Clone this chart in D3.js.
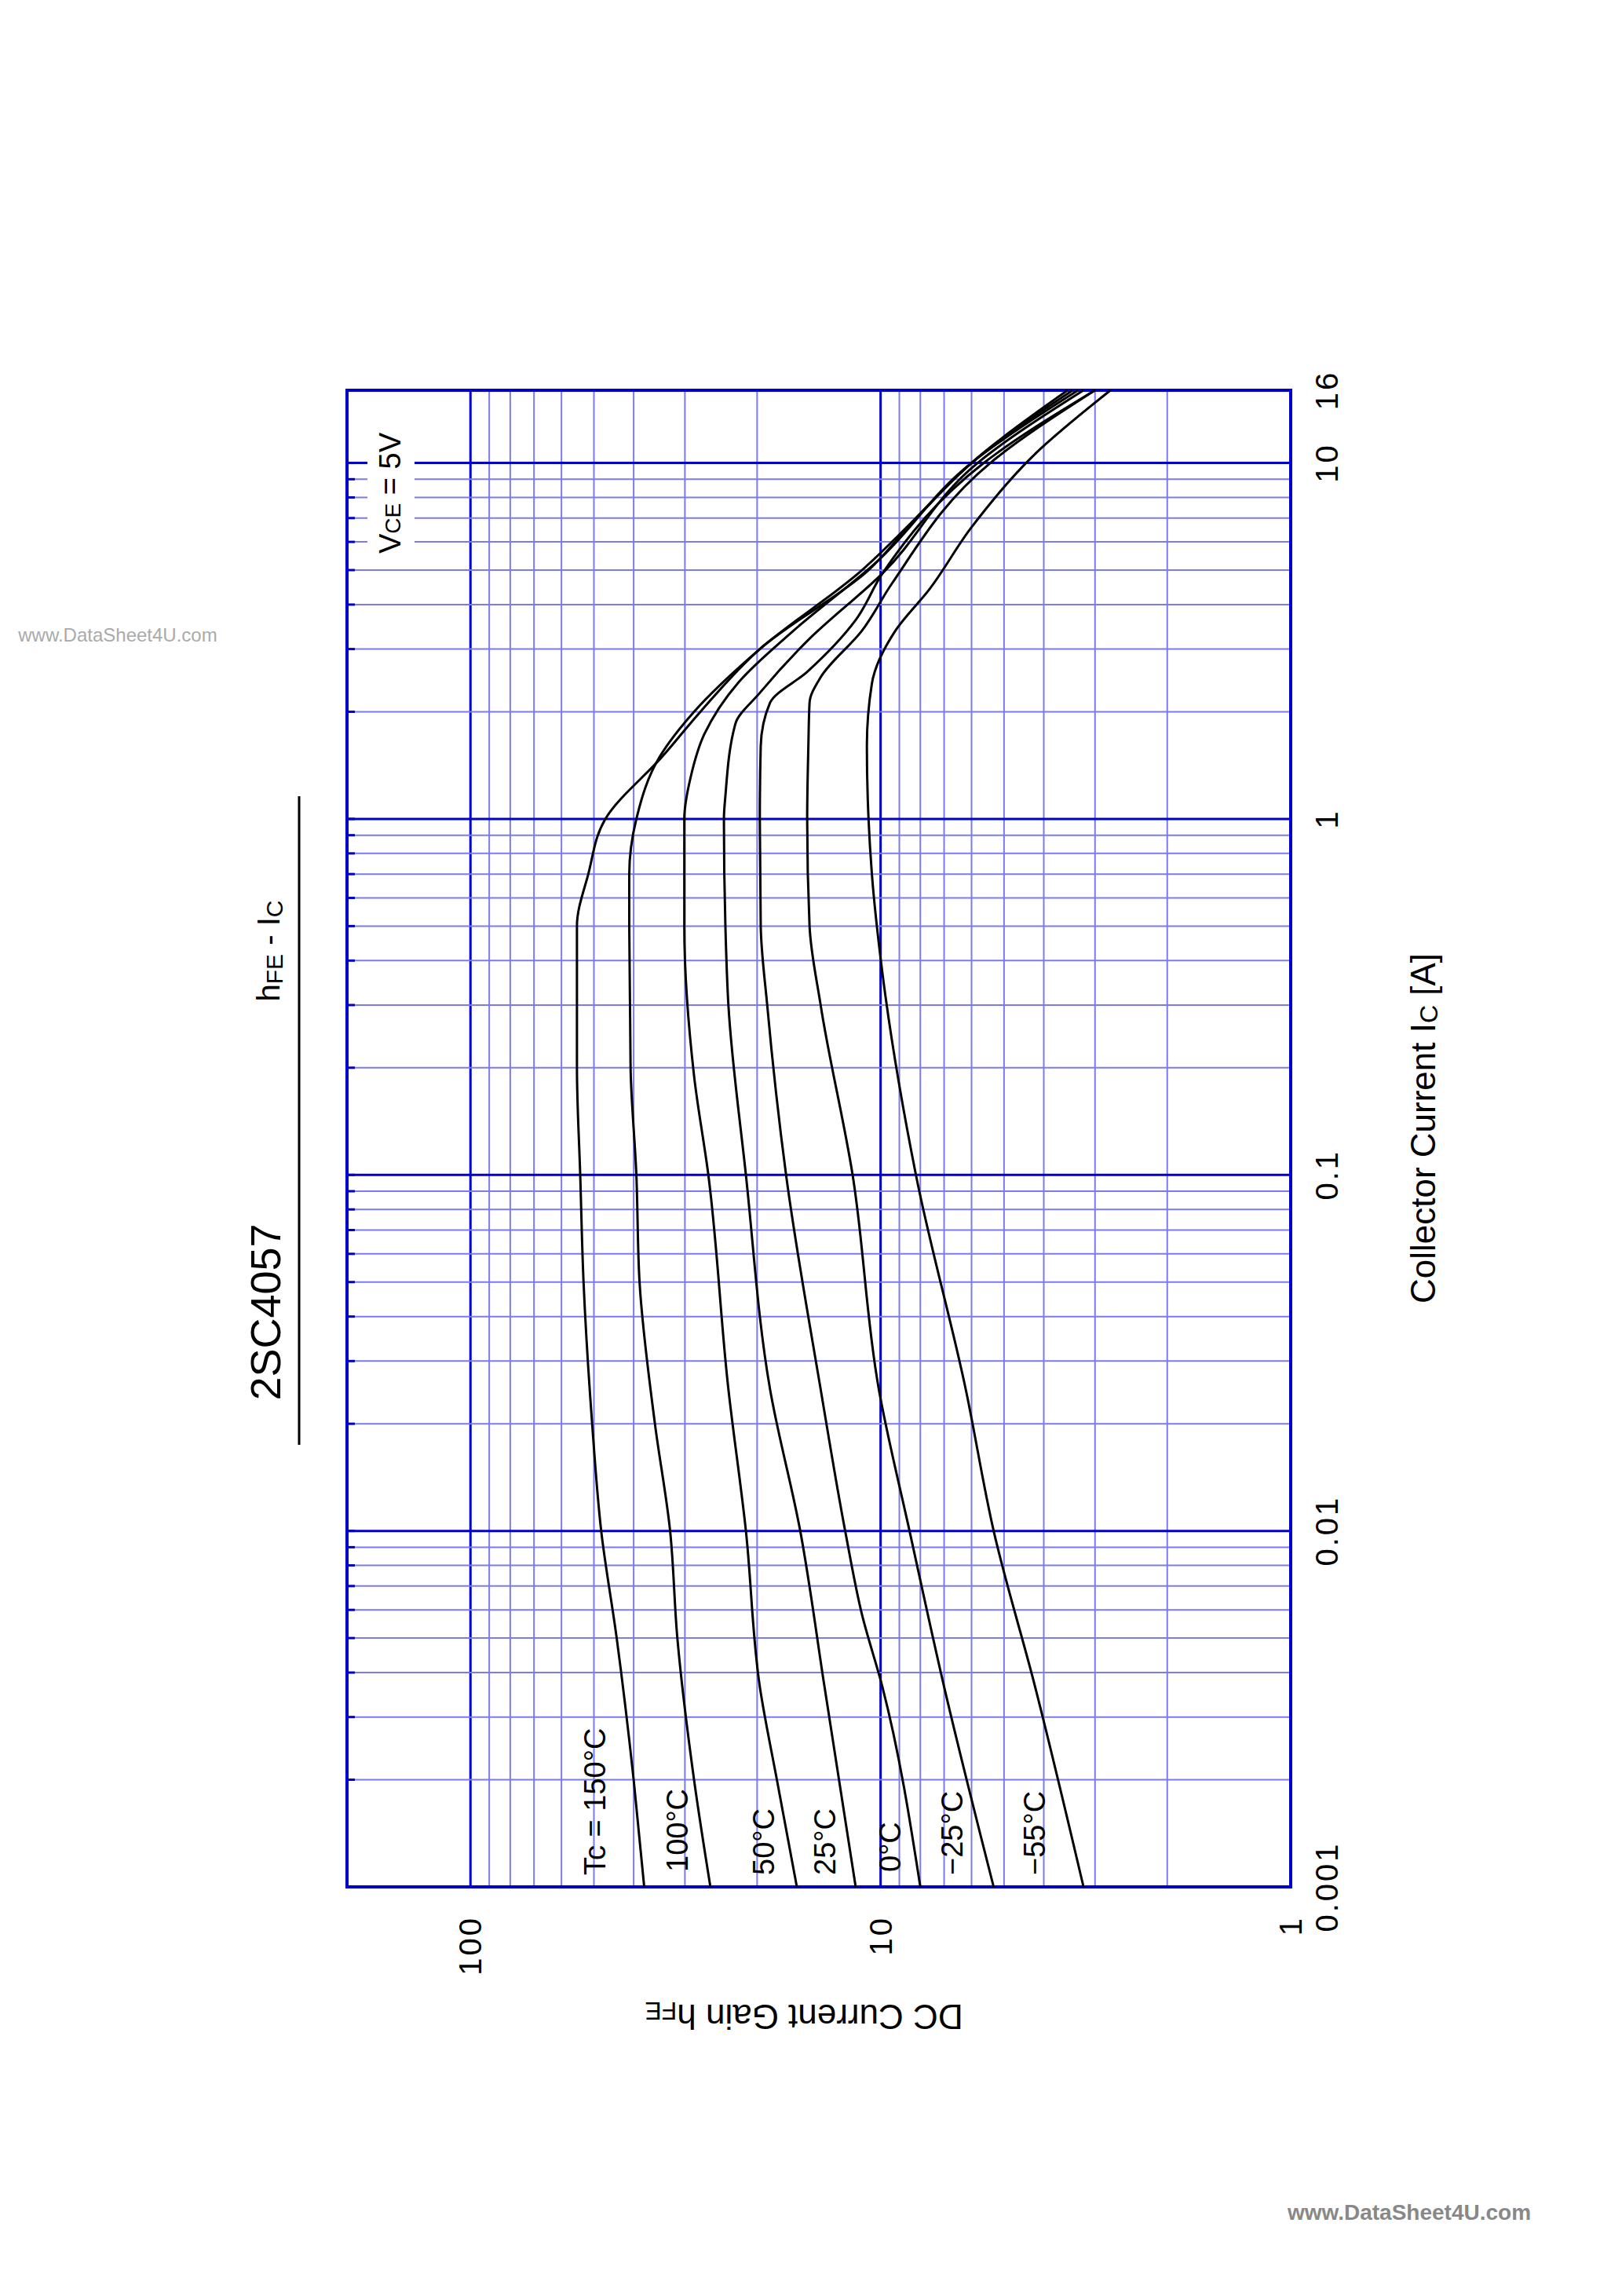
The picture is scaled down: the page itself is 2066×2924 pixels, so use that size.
<!DOCTYPE html>
<html><head><meta charset="utf-8">
<script src="https://cdn.jsdelivr.net/npm/d3@7"></script>
<style>body{margin:0;background:#fff}svg{display:block}text{font-family:"Liberation Sans",Arial,sans-serif}</style>
</head><body>
<script>
const icTicks = [0.001, 0.01, 0.1, 1, 10, 16];
const icTickLabels = ["0.001", "0.01", "0.1", "1", "10", "16"];
const hfeTicks = [1, 10, 100];
const hfeTickLabels = ["1", "10", "100"];
const seriesNames = ["Tc = 150°C", "100°C", "50°C", "25°C", "0°C", "−25°C", "−55°C"];
const t150 = [[0.001,37.7],[0.002,40],[0.005,44],[0.01,48],[0.02,50.5],[0.05,53],[0.1,54],[0.2,55],[0.5,55],[0.7,51.6],[1,46.9],[1.5,34],[2,27.5],[3,19.7],[5,10.7],[7,8.2],[10,6.0],[16,3.5]];
const t100 = [[0.001,26.0],[0.002,28.5],[0.005,31.3],[0.01,32.6],[0.02,35.5],[0.05,38.7],[0.1,39.4],[0.2,40.7],[0.5,41],[0.7,41],[1,39.4],[1.5,34.5],[2,28.5],[3,19.7],[5,11.1],[7,8.2],[10,6.0],[16,3.4]];
const t50 = [[0.001,16.0],[0.002,17.9],[0.00365,19.7],[0.01,21.3],[0.025,23.5],[0.1,26.3],[0.19,28.5],[0.5,30.1],[1,30.1],[1.32,29],[1.73,26.9],[2.42,22.2],[3.38,16.3],[5.23,10.3],[10,6.0],[16,3.3]];
const t25 = [[0.001,11.5],[0.00365,13.7],[0.01,15.7],[0.025,18.6],[0.1,21.3],[0.3,23.5],[0.5,23.9],[1,24.1],[1.16,23.9],[1.85,22.6],[2.26,19.7],[3.16,15.1],[4.89,9.9],[10,5.8],[16,3.2]];
const t0 = [[0.001,8.0],[0.00365,9.9],[0.00582,11.1],[0.01,12.2],[0.025,14.0],[0.1,17.0],[0.3,18.9],[0.5,19.6],[1,19.7],[1.6,19.6],[2.12,18.6],[2.59,15.1],[3.62,11.5],[4.89,9.9],[10,5.6],[16,3.0]];
const tm25 = [[0.001,5.3],[0.00365,7.0],[0.01,8.5],[0.025,10.1],[0.1,11.7],[0.3,14.0],[0.5,14.9],[1,15.1],[1.6,15.0],[2.12,14.9],[2.5,14.0],[3.38,11.1],[4.57,9.4],[10,5.4],[16,3.0]];
const tm55 = [[0.001,3.2],[0.00365,4.2],[0.01,5.3],[0.025,6.2],[0.1,8.2],[0.37,9.9],[0.7,10.5],[1,10.7],[1.6,10.8],[2.4,10.5],[3.38,9.2],[4.42,7.6],[6.6,6.0],[10.6,4.2],[16,2.75]];
const series = [t150, t100, t50, t25, t0, tm25, tm55];
const labelPos = [[758,2388],[863,2384],[973,2388],[1051,2388],[1134,2384],[1213,2388],[1318,2388]];

const W = 2066, H = 2924;
const svg = d3.select("body").append("svg").attr("width", W).attr("height", H);
const L = 442, R = 1644, T = 497, B = 2403;
const x = d3.scaleLog().domain([200, 1]).range([L, R]);
const y = d3.scaleLog().domain([0.001, 16]).range([B, T]);
const major = "#0000cc", minor = "#7b7bef";

// hFE grid (vertical lines)
const hGrid = [];
[1, 10, 100].forEach(d => { for (let k = 1; k <= 9; k++) { const v = d * k; if (v > 1 && v < 200) hGrid.push(v); } });
svg.append("g").selectAll("line").data(hGrid).join("line")
  .attr("x1", d => x(d)).attr("x2", d => x(d)).attr("y1", T).attr("y2", B)
  .attr("stroke", d => (d === 10 || d === 100) ? major : minor)
  .attr("stroke-width", d => (d === 10 || d === 100) ? 3 : 2);
// Ic grid (horizontal lines)
const iGrid = [];
[0.001, 0.01, 0.1, 1, 10].forEach(d => { for (let k = 1; k <= 9; k++) { const v = +(d * k).toPrecision(3); if (v > 0.001 && v < 16) iGrid.push(v); } });
svg.append("g").selectAll("line").data(iGrid).join("line")
  .attr("x1", L).attr("x2", R).attr("y1", d => y(d)).attr("y2", d => y(d))
  .attr("stroke", d => [0.01, 0.1, 1, 10].includes(d) ? major : minor)
  .attr("stroke-width", d => [0.01, 0.1, 1, 10].includes(d) ? 3 : 2);
// left edge ticks
svg.append("g").selectAll("line").data(iGrid).join("line")
  .attr("x1", L).attr("x2", L + 10).attr("y1", d => y(d)).attr("y2", d => y(d))
  .attr("stroke", major).attr("stroke-width", 3);
svg.append("rect").attr("x", L).attr("y", T).attr("width", R - L).attr("height", B - T)
  .attr("fill", "none").attr("stroke", major).attr("stroke-width", 4);

// VCE label with white box
svg.append("rect").attr("x", 468).attr("y", 530).attr("width", 60).attr("height", 180).attr("fill", "#fff");
const vce = svg.append("text").attr("transform", "translate(510,705) rotate(-90)").attr("font-size", 38);
vce.append("tspan").text("V");
vce.append("tspan").attr("font-size", 28).text("CE");
vce.append("tspan").text(" = 5V");

// curves
const line = d3.line().x(d => x(d[1])).y(d => y(d[0])).curve(d3.curveMonotoneY);
svg.append("g").selectAll("path").data(series).join("path")
  .attr("d", line).attr("fill", "none").attr("stroke", "#000").attr("stroke-width", 3);

// temperature labels
svg.append("g").selectAll("text").data(seriesNames).join("text")
  .attr("transform", (d, i) => `translate(${labelPos[i][0]},${labelPos[i][1]}) rotate(-90)`)
  .attr("dominant-baseline", "central").attr("font-size", 38).text(d => d);

// Ic tick labels
svg.append("g").selectAll("text").data(icTicks).join("text")
  .attr("transform", d => `translate(1690,${y(d)}) rotate(-90)`)
  .attr("text-anchor", "middle").attr("dominant-baseline", "central")
  .attr("font-size", 40).attr("letter-spacing", 3).text((d, i) => icTickLabels[i]);
// hFE tick labels
svg.append("g").selectAll("text").data(hfeTicks).join("text")
  .attr("transform", d => `translate(${x(d)},2440) rotate(-90)`)
  .attr("text-anchor", "end").attr("dominant-baseline", "central")
  .attr("font-size", 40).attr("letter-spacing", 3).text((d, i) => hfeTickLabels[i]);

// axis titles
const xt = svg.append("text").attr("transform", "translate(1812,1437) rotate(-90)")
  .attr("text-anchor", "middle").attr("dominant-baseline", "central").attr("font-size", 44);
xt.append("tspan").text("Collector Current  I");
xt.append("tspan").attr("font-size", 32).attr("dy", 8).text("C");
xt.append("tspan").attr("dy", -8).text(" [A]");
const yt = svg.append("text").attr("transform", "translate(1024,2569) rotate(180)")
  .attr("text-anchor", "middle").attr("dominant-baseline", "central").attr("font-size", 44);
yt.append("tspan").text("DC Current Gain  h");
yt.append("tspan").attr("font-size", 32).attr("dy", 8).text("FE");

// titles
svg.append("text").attr("transform", "translate(338,1671) rotate(-90)")
  .attr("text-anchor", "middle").attr("dominant-baseline", "central").attr("font-size", 54).text("2SC4057");
const st = svg.append("text").attr("transform", "translate(342,1211) rotate(-90)")
  .attr("text-anchor", "middle").attr("dominant-baseline", "central").attr("font-size", 40);
st.append("tspan").text("h");
st.append("tspan").attr("font-size", 30).attr("dy", 7).text("FE");
st.append("tspan").attr("dy", -7).text(" - I");
st.append("tspan").attr("font-size", 30).attr("dy", 7).text("C");
svg.append("line").attr("x1", 381).attr("x2", 381).attr("y1", 1014).attr("y2", 1840).attr("stroke", "#000").attr("stroke-width", 3);

// watermarks
svg.append("text").attr("x", 150).attr("y", 808).attr("text-anchor", "middle").attr("dominant-baseline", "central")
  .attr("font-size", 24).attr("fill", "#aaa").text("www.DataSheet4U.com");
svg.append("text").attr("x", 1795).attr("y", 2817).attr("text-anchor", "middle").attr("dominant-baseline", "central")
  .attr("font-size", 28).attr("font-weight", "bold").attr("fill", "#888").text("www.DataSheet4U.com");
</script>
</body></html>
